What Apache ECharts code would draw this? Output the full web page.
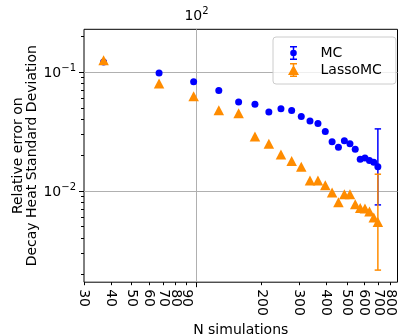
<!DOCTYPE html>
<html>
<head>
<meta charset="utf-8">
<script src="https://cdn.jsdelivr.net/npm/echarts@6/dist/echarts.min.js"></script>
<style>
  html, body { margin: 0; padding: 0; background: #fff; }
  #chart { width: 401px; height: 335px; }
</style>
</head>
<body>
<div id="chart"></div>
<script>
// number of simulations (x) and relative errors (y)
const nSims = [37, 67, 97, 127, 157, 187, 217, 247, 277, 307, 337, 367, 397, 427, 457, 487, 517, 547, 577, 607, 637, 667, 697];
const mcErr = [0.122, 0.0987, 0.0833, 0.0700, 0.0562, 0.0537, 0.0463, 0.0493, 0.0475, 0.0423, 0.0389, 0.0370, 0.0316, 0.0259, 0.0233, 0.0264, 0.0249, 0.0224, 0.0185, 0.0189, 0.0180, 0.0174, 0.0160];
const lassoErr = [0.1262, 0.0802, 0.0628, 0.0479, 0.0451, 0.0287, 0.0250, 0.0203, 0.0179, 0.0160, 0.01226, 0.01226, 0.01113, 0.00968, 0.00801, 0.00938, 0.00938, 0.00770, 0.00719, 0.00710, 0.00669, 0.00598, 0.00548];

// error bars: [n, lower, upper] (only the last point has a visible bar)
const mcBars = [[697, 0.00762, 0.0333]];
const lassoBars = [[697, 0.00215, 0.01382]];

// tick positions
const xMinorTicks = [30, 40, 50, 60, 70, 80, 90, 200, 300, 400, 500, 600, 700, 800];
// minor labels split over several axes so echarts does not drop the crowded ones
const xLabelsA = [30, 70, 90, 200, 400, 600, 800];
const xLabelsB = [40, 60, 80, 300, 500, 700];
const xLabelsC = [50]; // dropped on a log axis, so shown on a log10 value axis
const xMajorTicks = [100];
const yMajorTicks = [0.01, 0.1];
const yMinorTicks = [0.002, 0.003, 0.004, 0.005, 0.006, 0.007, 0.008, 0.009,
  0.02, 0.03, 0.04, 0.05, 0.06, 0.07, 0.08, 0.09, 0.2];

const X_MIN = 30, X_MAX = 860, Y_MIN = 0.0017, Y_MAX = 0.23;

// "10^e" with a raised exponent
const powLabel = (v) => {
  const e = Math.round(Math.log10(v));
  return '{b|10}{s|' + (e < 0 ? '\u2212' + (-e) : e) + '}';
};
const powRich = {
  b: { fontSize: 14, lineHeight: 17, verticalAlign: 'bottom', color: '#000' },
  s: { fontSize: 10, lineHeight: 10, verticalAlign: 'top', color: '#000' },
};

const mcIcon = 'path://M0,0H7V1.5H0Z M0,12.5H7V14H0Z M2.75,0H4.25V14H2.75Z M0.2,7A3.3,3.3 0 1 1 6.8,7A3.3,3.3 0 1 1 0.2,7Z';
const lassoIcon = 'path://M2,0H9V1.5H2Z M2,12.5H9V14H2Z M4.75,0H6.25V14H4.75Z M5.5,2L11,12L0,12Z';

const chart = echarts.init(document.getElementById('chart'), null, { renderer: 'canvas' });

const errorBarSeries = (name, data, color) => ({
  name,
  type: 'custom',
  xAxisIndex: 0,
  yAxisIndex: 0,
  data,
  silent: true,
  encode: { x: 0, y: [1, 2] },
  renderItem: (params, api) => {
    const x = api.value(0);
    const lo = api.coord([x, api.value(1)]);
    const hi = api.coord([x, api.value(2)]);
    const cap = 3.2;
    const style = { stroke: color, lineWidth: 1.5 };
    return {
      type: 'group',
      children: [
        { type: 'line', shape: { x1: lo[0], y1: lo[1], x2: hi[0], y2: hi[1] }, style },
        { type: 'line', shape: { x1: lo[0] - cap, y1: lo[1], x2: lo[0] + cap, y2: lo[1] }, style },
        { type: 'line', shape: { x1: hi[0] - cap, y1: hi[1], x2: hi[0] + cap, y2: hi[1] }, style },
      ],
    };
  },
});

const logX = { type: 'log', logBase: 10, min: X_MIN, max: X_MAX };
const logY = { type: 'log', logBase: 10, min: Y_MIN, max: Y_MAX };

const minorLabel = (values) => ({
  customValues: values, rotate: -90, margin: 7, fontSize: 14, color: '#000',
  formatter: (v) => String(Math.round(v)), hideOverlap: false,
  showMinLabel: true, showMaxLabel: true,
});

chart.setOption({
  animation: false,
  textStyle: { fontFamily: 'DejaVu Sans', color: '#000' },
  grid: {
    left: 84, right: 3.5, top: 29.3, bottom: 52.8,
    show: true, borderColor: '#000', borderWidth: 1, backgroundColor: '#fff',
    outerBoundsMode: 'none',
  },
  legend: {
    orient: 'vertical',
    left: 273,
    top: 37,
    padding: [9, 14, 7, 15],
    itemWidth: 12,
    itemHeight: 14,
    itemGap: 3,
    backgroundColor: 'rgba(255,255,255,0.8)',
    borderColor: '#cccccc',
    borderWidth: 1,
    borderRadius: 3,
    itemStyle: { borderWidth: 0 },
    textStyle: { fontSize: 14, color: '#000', padding: [0, 0, 0, 16] },
    data: [
      { name: 'MC', icon: mcIcon },
      { name: 'LassoMC', icon: lassoIcon },
    ],
  },
  xAxis: [
    {
      ...logX,
      position: 'bottom',
      name: 'N simulations',
      nameLocation: 'middle',
      nameGap: 41,
      nameMoveOverlap: false,
      nameTextStyle: { fontSize: 14, color: '#000' },
      axisLine: { show: false },
      axisTick: { show: true, customValues: xMinorTicks, length: 3, lineStyle: { color: '#000', width: 1 } },
      axisLabel: minorLabel(xLabelsA),
      minorTick: { show: false },
      splitLine: { show: false },
    },
    {
      ...logX,
      position: 'bottom',
      axisLine: { show: false },
      axisTick: { show: false, customValues: xLabelsB },
      axisLabel: minorLabel(xLabelsB),
      splitLine: { show: false },
    },
    {
      type: 'value',
      min: Math.log10(X_MIN),
      max: Math.log10(X_MAX),
      position: 'bottom',
      axisLine: { show: false },
      axisTick: { show: false, customValues: xLabelsC.map(Math.log10) },
      axisLabel: {
        ...minorLabel(xLabelsC.map(Math.log10)),
        formatter: (v) => String(Math.round(Math.pow(10, v))),
      },
      splitLine: { show: false },
    },
    {
      ...logX,
      position: 'top',
      axisLine: { show: false },
      axisTick: { show: false, customValues: xMajorTicks },
      axisLabel: { customValues: xMajorTicks, margin: 6, formatter: powLabel, rich: powRich },
      splitLine: { show: false },
    },
    {
      ...logX,
      position: 'bottom',
      axisLine: { show: false },
      axisTick: { show: true, customValues: xMajorTicks, length: 5, lineStyle: { color: '#000', width: 1 } },
      axisLabel: { show: false },
      splitLine: { show: true, lineStyle: { color: '#b0b0b0', width: 1 } },
    },
  ],
  yAxis: [
    {
      ...logY,
      position: 'left',
      name: 'Relative error on\nDecay Heat Standard Deviation',
      nameLocation: 'middle',
      nameRotate: 90,
      nameGap: 45,
      nameMoveOverlap: false,
      nameTextStyle: { fontSize: 14, color: '#000', lineHeight: 13.5, align: 'center' },
      axisLine: { show: false },
      axisTick: { show: true, customValues: yMajorTicks, length: 5, lineStyle: { color: '#000', width: 1 } },
      axisLabel: { customValues: yMajorTicks, margin: 8, formatter: powLabel, rich: powRich },
      splitLine: { show: true, lineStyle: { color: '#b0b0b0', width: 1 } },
    },
    {
      ...logY,
      position: 'left',
      axisLine: { show: false },
      axisTick: { show: true, customValues: yMinorTicks, length: 3, lineStyle: { color: '#000', width: 1 } },
      axisLabel: { show: false },
      splitLine: { show: false },
    },
  ],
  series: [
    errorBarSeries('MC err', mcBars, '#0000ff'),
    {
      name: 'MC',
      type: 'scatter',
      xAxisIndex: 0,
      yAxisIndex: 0,
      symbol: 'circle',
      symbolSize: 7,
      symbolKeepAspect: true,
      itemStyle: { color: '#0000ff', opacity: 1 },
      data: nSims.map((n, i) => [n, mcErr[i]]),
    },
    errorBarSeries('LassoMC err', lassoBars, '#ff8c00'),
    {
      name: 'LassoMC',
      type: 'scatter',
      xAxisIndex: 0,
      yAxisIndex: 0,
      symbol: 'triangle',
      symbolSize: [10.5, 10],
      symbolKeepAspect: true,
      itemStyle: { color: '#ff8c00', opacity: 1 },
      data: nSims.map((n, i) => [n, lassoErr[i]]),
    },
  ],
});

window.addEventListener('resize', () => chart.resize());
</script>
</body>
</html>
